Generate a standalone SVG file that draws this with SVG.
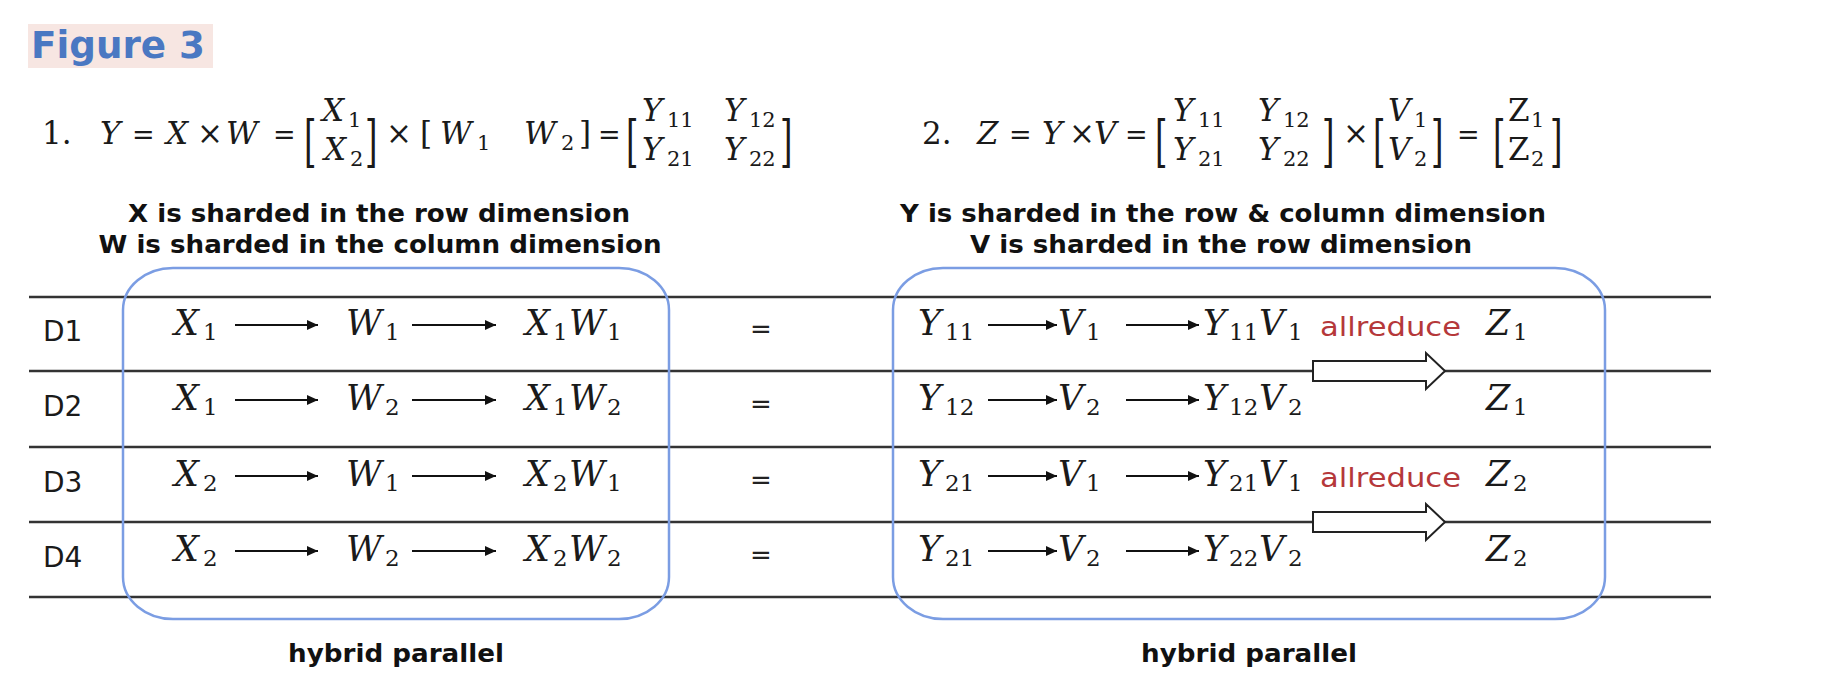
<svg xmlns="http://www.w3.org/2000/svg" width="1830" height="681" viewBox="0 0 1830 681">
<defs>
<style>
.t{font-family:"DejaVu Serif","Liberation Serif",serif;fill:#1a1a1a}
.i{font-style:italic}
.e{font-size:31px}
.eo{font-size:27px}
.es{font-size:21px}
.r{font-size:35px}
.rs{font-size:23px}
.big{font-family:"DejaVu Serif","Liberation Serif",serif;font-size:32px;fill:#1a1a1a}
.hd{font-family:"DejaVu Sans","Liberation Sans",sans-serif;font-weight:bold;font-size:25px;fill:#111;text-anchor:middle}
.lbl{font-family:"DejaVu Sans","Liberation Sans",sans-serif;font-size:28px;fill:#1a1a1a}
.eqs{font-family:"DejaVu Sans","Liberation Sans",sans-serif;font-size:26px;fill:#222;text-anchor:middle}
.ar{font-family:"DejaVu Sans","Liberation Sans",sans-serif;font-size:26px;fill:#b5383a}
.rowline{stroke:#333;stroke-width:2.5}
.box{fill:none;stroke:#7b9de3;stroke-width:2.5}
.sa{stroke:#111;stroke-width:2;fill:none;marker-end:url(#ah)}
.ha{fill:#fff;stroke:#222;stroke-width:2;stroke-linejoin:miter}
</style>
<marker id="ah" markerWidth="11" markerHeight="10" refX="11" refY="5" orient="auto" markerUnits="userSpaceOnUse"><path d="M0,0 L11,5 L0,10 z" fill="#111"/></marker>
</defs>
<rect width="1830" height="681" fill="#fff"/>

<g id="title">
<rect x="28" y="24" width="185" height="44" fill="#f7e6e2"/>
<text x="31" y="58" font-family="DejaVu Sans, Liberation Sans, sans-serif" font-weight="bold" font-size="37" fill="#4a78c2" textLength="174" lengthAdjust="spacingAndGlyphs">Figure 3</text>
</g>

<g id="eq1" class="t">
<text class="e" x="42" y="144">1.</text>
<text class="e i" x="100" y="144">Y</text>
<text class="eo" x="132" y="144">=</text>
<text class="e i" x="166" y="144">X</text>
<text class="e" x="197" y="144">×</text>
<text class="e i" x="226" y="144">W</text>
<text class="eo" x="273" y="144">=</text>
<text class="big" transform="translate(304,161) scale(1,1.75)">[</text>
<text class="e i" x="322" y="121">X</text><text class="es" x="348" y="127">1</text>
<text class="e i" x="324" y="160">X</text><text class="es" x="350" y="166">2</text>
<text class="big" transform="translate(365,161) scale(1,1.75)">]</text>
<text class="e" x="386" y="144">×</text>
<text class="e" x="420" y="144">[</text>
<text class="e i" x="440" y="144">W</text><text class="es" x="477" y="150">1</text>
<text class="e i" x="524" y="144">W</text><text class="es" x="561" y="150">2</text>
<text class="e" x="579" y="144">]</text>
<text class="eo" x="598" y="144">=</text>
<text class="big" transform="translate(626,161) scale(1,1.75)">[</text>
<text class="e i" x="642" y="121">Y</text><text class="es" x="667" y="127">11</text>
<text class="e i" x="724" y="121">Y</text><text class="es" x="749" y="127">12</text>
<text class="e i" x="642" y="160">Y</text><text class="es" x="667" y="166">21</text>
<text class="e i" x="724" y="160">Y</text><text class="es" x="749" y="166">22</text>
<text class="big" transform="translate(780,161) scale(1,1.75)">]</text>
</g>

<g id="eq2" class="t">
<text class="e" x="922" y="144">2.</text>
<text class="e i" x="977" y="144">Z</text>
<text class="eo" x="1009" y="144">=</text>
<text class="e i" x="1042" y="144">Y</text>
<text class="e" x="1069" y="144">×</text>
<text class="e i" x="1094" y="144">V</text>
<text class="eo" x="1125" y="144">=</text>
<text class="big" transform="translate(1155,161) scale(1,1.75)">[</text>
<text class="e i" x="1173" y="121">Y</text><text class="es" x="1198" y="127">11</text>
<text class="e i" x="1258" y="121">Y</text><text class="es" x="1283" y="127">12</text>
<text class="e i" x="1173" y="160">Y</text><text class="es" x="1198" y="166">21</text>
<text class="e i" x="1258" y="160">Y</text><text class="es" x="1283" y="166">22</text>
<text class="big" transform="translate(1322,161) scale(1,1.75)">]</text>
<text class="e" x="1343" y="144">×</text>
<text class="big" transform="translate(1373,161) scale(1,1.75)">[</text>
<text class="e i" x="1388" y="121">V</text><text class="es" x="1414" y="127">1</text>
<text class="e i" x="1388" y="160">V</text><text class="es" x="1414" y="166">2</text>
<text class="big" transform="translate(1431,161) scale(1,1.75)">]</text>
<text class="eo" x="1457" y="144">=</text>
<text class="big" transform="translate(1493,161) scale(1,1.75)">[</text>
<text class="e" x="1508" y="121">Z</text><text class="es" x="1531" y="127">1</text>
<text class="e" x="1508" y="160">Z</text><text class="es" x="1531" y="166">2</text>
<text class="big" transform="translate(1550,161) scale(1,1.75)">]</text>
</g>

<g id="heading-left">
<text class="hd" x="379" y="222" textLength="502" lengthAdjust="spacingAndGlyphs">X is sharded in the row dimension</text>
<text class="hd" x="380" y="253" textLength="563" lengthAdjust="spacingAndGlyphs">W is sharded in the column dimension</text>
</g>
<g id="heading-right">
<text class="hd" x="1223" y="222" textLength="646" lengthAdjust="spacingAndGlyphs">Y is sharded in the row &amp; column dimension</text>
<text class="hd" x="1221" y="253" textLength="502" lengthAdjust="spacingAndGlyphs">V is sharded in the row dimension</text>
</g>

<g id="row-lines">
<line class="rowline" x1="29" y1="297" x2="1711" y2="297"/>
<line class="rowline" x1="29" y1="371" x2="1711" y2="371"/>
<line class="rowline" x1="29" y1="447" x2="1711" y2="447"/>
<line class="rowline" x1="29" y1="522" x2="1711" y2="522"/>
<line class="rowline" x1="29" y1="597" x2="1711" y2="597"/>
</g>

<g id="box-left"><rect class="box" x="123" y="268" width="546" height="351" rx="50" ry="42"/></g>
<g id="box-right"><rect class="box" x="893" y="268" width="712" height="351" rx="50" ry="42"/></g>

<g id="labels">
<text class="lbl" x="43" y="341">D1</text>
<text class="lbl" x="43" y="416">D2</text>
<text class="lbl" x="43" y="492">D3</text>
<text class="lbl" x="43" y="567">D4</text>
</g>

<g id="left-D1" class="t">
<text class="r i" x="174" y="335">X</text><text class="rs" x="203" y="340">1</text>
<text class="r i" x="346" y="335">W</text><text class="rs" x="385" y="340">1</text>
<text class="r i" x="525" y="335">X</text><text class="rs" x="553" y="340">1</text><text class="r i" x="569" y="335">W</text><text class="rs" x="607" y="340">1</text>
</g>
<g id="left-D2" class="t">
<text class="r i" x="174" y="410">X</text><text class="rs" x="203" y="415">1</text>
<text class="r i" x="346" y="410">W</text><text class="rs" x="385" y="415">2</text>
<text class="r i" x="525" y="410">X</text><text class="rs" x="553" y="415">1</text><text class="r i" x="569" y="410">W</text><text class="rs" x="607" y="415">2</text>
</g>
<g id="left-D3" class="t">
<text class="r i" x="174" y="486">X</text><text class="rs" x="203" y="491">2</text>
<text class="r i" x="346" y="486">W</text><text class="rs" x="385" y="491">1</text>
<text class="r i" x="525" y="486">X</text><text class="rs" x="553" y="491">2</text><text class="r i" x="569" y="486">W</text><text class="rs" x="607" y="491">1</text>
</g>
<g id="left-D4" class="t">
<text class="r i" x="174" y="561">X</text><text class="rs" x="203" y="566">2</text>
<text class="r i" x="346" y="561">W</text><text class="rs" x="385" y="566">2</text>
<text class="r i" x="525" y="561">X</text><text class="rs" x="553" y="566">2</text><text class="r i" x="569" y="561">W</text><text class="rs" x="607" y="566">2</text>
</g>

<g id="equals">
<text class="eqs" x="761" y="338">=</text>
<text class="eqs" x="761" y="413">=</text>
<text class="eqs" x="761" y="489">=</text>
<text class="eqs" x="761" y="564">=</text>
</g>

<g id="right-D1" class="t">
<text class="r i" x="918" y="335">Y</text><text class="rs" x="945" y="340">11</text>
<text class="r i" x="1058" y="335">V</text><text class="rs" x="1086" y="340">1</text>
<text class="r i" x="1203" y="335">Y</text><text class="rs" x="1229" y="340">11</text><text class="r i" x="1259" y="335">V</text><text class="rs" x="1288" y="340">1</text>
<text class="ar" x="1320" y="336" textLength="141" lengthAdjust="spacingAndGlyphs">allreduce</text>
<text class="r i" x="1486" y="335">Z</text><text class="rs" x="1513" y="340">1</text>
</g>
<g id="right-D2" class="t">
<text class="r i" x="918" y="410">Y</text><text class="rs" x="945" y="415">12</text>
<text class="r i" x="1058" y="410">V</text><text class="rs" x="1086" y="415">2</text>
<text class="r i" x="1203" y="410">Y</text><text class="rs" x="1229" y="415">12</text><text class="r i" x="1259" y="410">V</text><text class="rs" x="1288" y="415">2</text>
<text class="r i" x="1486" y="410">Z</text><text class="rs" x="1513" y="415">1</text>
</g>
<g id="right-D3" class="t">
<text class="r i" x="918" y="486">Y</text><text class="rs" x="945" y="491">21</text>
<text class="r i" x="1058" y="486">V</text><text class="rs" x="1086" y="491">1</text>
<text class="r i" x="1203" y="486">Y</text><text class="rs" x="1229" y="491">21</text><text class="r i" x="1259" y="486">V</text><text class="rs" x="1288" y="491">1</text>
<text class="ar" x="1320" y="487" textLength="141" lengthAdjust="spacingAndGlyphs">allreduce</text>
<text class="r i" x="1486" y="486">Z</text><text class="rs" x="1513" y="491">2</text>
</g>
<g id="right-D4" class="t">
<text class="r i" x="918" y="561">Y</text><text class="rs" x="945" y="566">21</text>
<text class="r i" x="1058" y="561">V</text><text class="rs" x="1086" y="566">2</text>
<text class="r i" x="1203" y="561">Y</text><text class="rs" x="1229" y="566">22</text><text class="r i" x="1259" y="561">V</text><text class="rs" x="1288" y="566">2</text>
<text class="r i" x="1486" y="561">Z</text><text class="rs" x="1513" y="566">2</text>
</g>

<g id="connectors">
<line class="sa" x1="235" y1="325" x2="318" y2="325"/>
<line class="sa" x1="412" y1="325" x2="496" y2="325"/>
<line class="sa" x1="235" y1="400" x2="318" y2="400"/>
<line class="sa" x1="412" y1="400" x2="496" y2="400"/>
<line class="sa" x1="235" y1="476" x2="318" y2="476"/>
<line class="sa" x1="412" y1="476" x2="496" y2="476"/>
<line class="sa" x1="235" y1="551" x2="318" y2="551"/>
<line class="sa" x1="412" y1="551" x2="496" y2="551"/>
<line class="sa" x1="988" y1="325" x2="1057" y2="325"/>
<line class="sa" x1="1126" y1="325" x2="1199" y2="325"/>
<line class="sa" x1="988" y1="400" x2="1057" y2="400"/>
<line class="sa" x1="1126" y1="400" x2="1199" y2="400"/>
<line class="sa" x1="988" y1="476" x2="1057" y2="476"/>
<line class="sa" x1="1126" y1="476" x2="1199" y2="476"/>
<line class="sa" x1="988" y1="551" x2="1057" y2="551"/>
<line class="sa" x1="1126" y1="551" x2="1199" y2="551"/>
<polygon class="ha" points="1313,361 1426,361 1426,353 1445,371 1426,389 1426,381 1313,381"/>
<polygon class="ha" points="1313,512 1426,512 1426,504 1445,522 1426,540 1426,532 1313,532"/>
</g>

<g id="caption-left"><text class="hd" x="396" y="662" font-size="25" textLength="216" lengthAdjust="spacingAndGlyphs">hybrid parallel</text></g>
<g id="caption-right"><text class="hd" x="1249" y="662" font-size="25" textLength="216" lengthAdjust="spacingAndGlyphs">hybrid parallel</text></g>
</svg>
